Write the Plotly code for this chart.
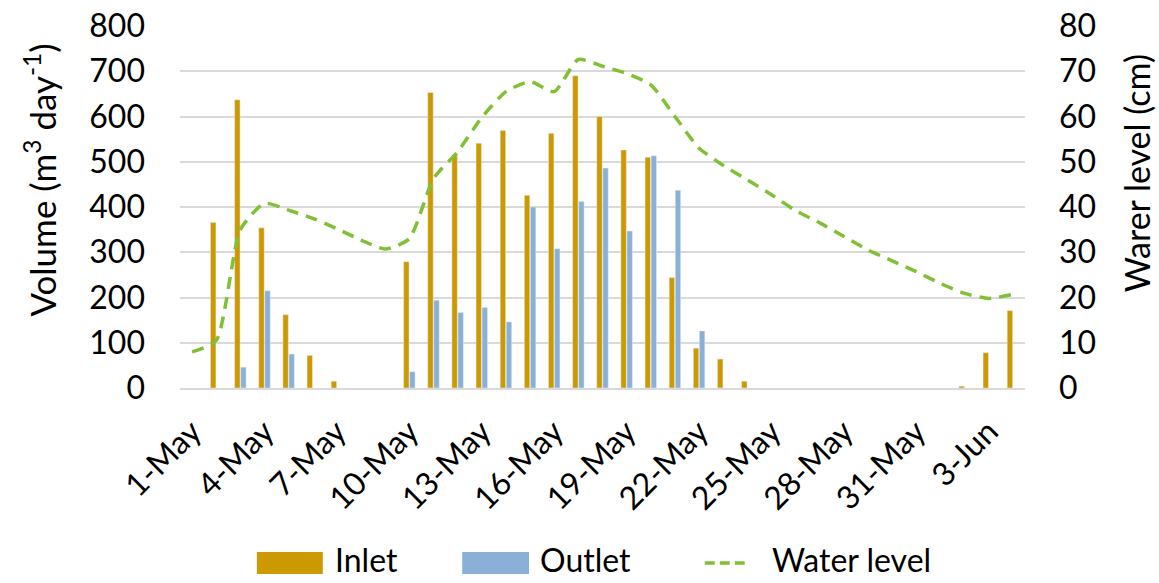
import pandas as pd
import plotly.graph_objects as go

# Daily dates, 1 May to 4 June
dates = [d.strftime("%-d-%b") for d in pd.date_range("2021-05-01", "2021-06-04")]

# Daily volumes (m3 day-1); None = no flow that day
inlet = [None, 366, 637, 354, 162, 72, 15, None, None, 279,
         653, 515, 541, 569, 426, 563, 690, 600, 526, 510,
         244, 88, 64, 15, None, None, None, None, None, None,
         None, None, 4, 78, 171]
outlet = [None, None, 46, 215, 75, None, None, None, None, 36,
          194, 167, 178, 146, 400, 308, 412, 486, 347, 513,
          437, 126, None, None, None, None, None, None, None, None,
          None, None, None, None, None]

# Water level (cm)
water_level = [8, 10.5, 35, 40.8, 39.3, 37.5, 35.2, 32.7, 30.7, 33,
               46.3, 52.2, 59.8, 65.5, 67.7, 65.5, 72.6, 71.1, 69.5, 67,
               60, 53, 49.2, 46, 42.7, 39.2, 36.5, 33.5, 30.5, 28.1,
               25.7, 23.1, 20.9, 19.8, 20.7]

tick_vals = dates[::3]

FONT = "Lato, Calibri, sans-serif"
FS = 32
TITLE_FS = 34
INLET_C = "#CC9900"
OUTLET_C = "#8AB0D8"
LEVEL_C = "#7FC034"
GRID_C = "#D9D9D9"

fig = go.Figure()
fig.add_trace(go.Bar(x=dates, y=inlet, name="Inlet", marker=dict(color=INLET_C)))
fig.add_trace(go.Bar(x=dates, y=outlet, name="Outlet", marker=dict(color=OUTLET_C)))
fig.add_trace(go.Scatter(x=dates, y=water_level, name="Water level", yaxis="y2",
                         mode="lines",
                         line=dict(color=LEVEL_C, width=3.5, dash="12px,8px",
                                   shape="spline", smoothing=0.6)))

# Legend below the axis: wide swatches with labels
legend_items = [
    ("rect", INLET_C, 0.091, 0.169, "Inlet", 0.181),
    ("rect", OUTLET_C, 0.334, 0.413, "Outlet", 0.424),
    ("line", LEVEL_C, 0.621, 0.669, "Water level", 0.698),
]
y_top, y_bot, y_mid = -0.453, -0.514, -0.4835
y_text = -0.534
shapes = []
annotations = []
for kind, color, x0, x1, label, xt in legend_items:
    if kind == "rect":
        shapes.append(dict(type="rect", xref="paper", yref="paper", x0=x0, x1=x1,
                           y0=y_bot, y1=y_top, fillcolor=color, line=dict(width=0)))
    else:
        shapes.append(dict(type="line", xref="paper", yref="paper", x0=x0, x1=x1,
                           y0=y_mid, y1=y_mid,
                           line=dict(color=color, width=3.5, dash="10px,5px")))
    annotations.append(dict(text=label, xref="paper", yref="paper", x=xt, y=y_text,
                            xanchor="left", yanchor="bottom", showarrow=False,
                            font=dict(size=FS, family=FONT, color="black")))

# Axis titles
annotations.append(dict(text="Volume (m<sup>3</sup> day<sup>-1</sup>)", textangle=-90,
                        xref="paper", yref="paper", x=-0.166, y=0.575,
                        xanchor="center", yanchor="middle", showarrow=False,
                        font=dict(size=35, family=FONT, color="black")))
annotations.append(dict(text="Warer level (cm)", textangle=-90,
                        xref="paper", yref="paper", x=1.132, y=0.592,
                        xanchor="center", yanchor="middle", showarrow=False,
                        font=dict(size=TITLE_FS, family=FONT, color="black")))

fig.update_layout(
    width=1159, height=583,
    margin=dict(l=180, r=134, t=26, b=195),
    paper_bgcolor="white", plot_bgcolor="white",
    font=dict(family=FONT, size=FS, color="black"),
    barmode="group", bargap=0.5, bargroupgap=0.1,
    showlegend=False,
    shapes=shapes, annotations=annotations,
    xaxis=dict(type="category", tickmode="array", tickvals=tick_vals, ticktext=tick_vals,
               tickangle=-45, showgrid=False, showline=True, linecolor=GRID_C,
               linewidth=2, ticks="", tickfont=dict(size=FS), ticklabelstandoff=10,
               automargin=False),
    yaxis=dict(range=[0, 800], dtick=100, showgrid=True, gridcolor=GRID_C,
               gridwidth=2, zeroline=False, ticks="", tickfont=dict(size=FS),
               ticklabelstandoff=34, automargin=False),
    yaxis2=dict(range=[0, 80], dtick=10, overlaying="y", side="right", showgrid=False,
                zeroline=False, ticks="", tickfont=dict(size=FS), ticklabelstandoff=33,
                automargin=False),
)

fig.write_html("out.html")
